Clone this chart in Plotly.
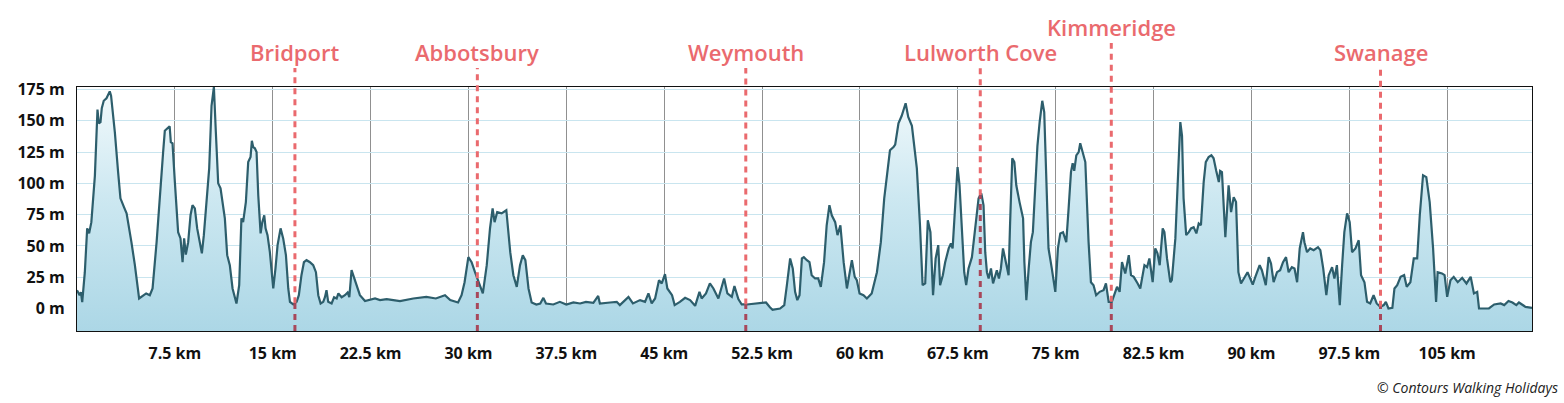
import numpy as np
import plotly.graph_objects as go

# ---------------- data ----------------
km = [0, 0.2, 0.3, 0.4, 0.6, 0.78, 0.93, 1.1, 1.37, 1.57, 1.67, 1.8, 1.9, 2.05, 2.26, 2.51, 2.61, 2.9, 3.15, 3.33,
      3.6, 3.8, 4.17, 4.43, 4.76, 5.07, 5.3, 5.58, 5.79, 6.1, 6.35, 6.6, 6.73, 6.99, 7.1, 7.19, 7.32, 7.5, 7.75, 7.93,
      8.09, 8.21, 8.34, 8.52, 8.7, 8.85, 9.03, 9.21, 9.42, 9.57, 9.72, 9.93, 10.13, 10.31, 10.49, 10.64, 10.82, 11.0,
      11.2, 11.33, 11.51, 11.71, 11.92, 12.22, 12.43, 12.6, 12.73, 12.94, 13.12, 13.3, 13.4, 13.5, 13.63, 13.76, 13.89,
      14.07, 14.2, 14.35, 14.45, 14.6, 14.78, 14.91, 15.04, 15.21, 15.37, 15.6, 15.8, 16.01, 16.19, 16.32, 16.57, 16.83,
      17.0, 17.2, 17.39, 17.59, 17.85, 18.1, 18.31, 18.49, 18.67, 18.87, 19.0, 19.12, 19.25, 19.51, 19.7, 19.9, 20.03,
      20.28, 20.53, 20.74, 20.87, 21.04, 21.22, 21.43, 21.68, 22.07, 22.45, 22.84, 23.22, 23.73, 24.24,
      24.75, 25.77, 26.77, 27.5, 28.2, 28.6, 29.2, 29.47, 29.7, 29.99, 30.24, 30.5, 30.8, 31.1, 31.4, 31.65, 31.85, 32.0,
      32.2, 32.54, 32.9, 33.2, 33.44, 33.7, 33.95, 34.16, 34.36, 34.6, 34.84, 35.2, 35.5, 35.74, 35.94, 36.5, 37.0, 37.5,
      38.04, 38.55, 39.0, 39.57, 39.94, 40.07, 40.85, 41.36, 41.6, 42.26, 42.6, 43.15, 43.53, 43.79, 44.04, 44.3, 44.6,
      44.81, 45.06, 45.24, 45.6, 45.8, 46.2, 46.6, 46.98, 47.37, 47.7, 47.87, 48.2, 48.5, 48.77, 49.15, 49.59, 49.84,
      50.18, 50.38, 50.68, 50.94, 51.33, 52.1, 52.8,
      53.1, 53.3, 53.88, 54.2, 54.4, 54.65, 54.85, 55.03, 55.2, 55.37, 55.55, 55.7, 55.93, 56.13, 56.3, 56.56, 56.8, 57.0,
      57.25, 57.45, 57.66, 57.84, 58.1, 58.28, 58.5, 58.75, 59.0, 59.2, 59.38, 59.6, 59.76, 59.97, 60.27, 60.53, 60.9,
      61.3, 61.6, 61.86, 62.06, 62.3, 62.57, 62.7, 62.95, 63.2, 63.5, 63.7, 63.98, 64.1, 64.36, 64.6, 64.8, 65.0, 65.2,
      65.4, 65.6, 65.8, 66.0, 66.14, 66.35, 66.53, 66.8, 66.97, 67.1, 67.3, 67.48, 67.63, 67.81, 67.99, 68.14, 68.32,
      68.58, 68.83, 69.09, 69.3, 69.47, 69.6, 69.73, 69.86, 70.04, 70.2, 70.49, 70.65, 70.8, 70.96, 71.13, 71.39, 71.5,
      71.67, 71.83, 71.98, 72.23, 72.5, 72.6, 72.75, 72.93, 73.1, 73.25, 73.43, 73.6, 73.77, 73.97, 74.12, 74.28, 74.45,
      74.7, 74.97, 75.17, 75.35, 75.56, 75.81, 75.99, 76.17, 76.3, 76.42, 76.58, 76.76, 76.88, 77.06, 77.27, 77.52,
      77.7, 77.9, 78.1, 78.37, 78.67, 78.85, 79.06, 79.3, 79.5, 79.7, 79.9, 80.08, 80.33, 80.6, 80.77, 80.98, 81.28,
      81.48, 81.8, 82.0, 82.18, 82.43, 82.63, 82.8, 82.97, 83.2, 83.33, 83.53, 83.78, 83.9, 84.17, 84.37, 84.55, 84.68,
      84.8, 85.0, 85.2, 85.37, 85.57, 85.78, 85.96, 86.13, 86.34, 86.5, 86.72, 86.93, 87.1, 87.3, 87.5, 87.6, 87.74,
      88.0, 88.25, 88.44, 88.64, 88.82, 89.0, 89.2, 89.53, 89.7, 89.9, 90.1, 90.3, 90.63, 90.8, 91.1, 91.32, 91.5, 91.7,
      91.96, 92.2, 92.42, 92.65, 92.85, 93.1, 93.3, 93.5, 93.7, 93.95, 94.06, 94.26, 94.5, 94.77, 95.1, 95.28, 95.5,
      95.74, 95.92, 96.18, 96.36, 96.55, 96.77, 96.95, 97.12, 97.33, 97.53, 97.71, 97.97, 98.22, 98.4, 98.66, 98.86,
      99.1, 99.36, 99.6, 99.88, 100.14, 100.3, 100.5, 100.8, 100.96, 101.17, 101.43, 101.7, 101.9, 102.18, 102.44,
      102.7, 102.9, 103.15, 103.4, 103.66, 103.92, 104.15, 104.27, 104.6, 104.8, 105.0, 105.25, 105.5, 105.81, 106.15,
      106.48, 106.8, 107.05, 107.3, 107.44, 108.2, 108.6, 109.1, 109.37, 109.7, 110.0, 110.3, 110.5, 110.7, 111.0, 111.5]

elevation = [14.6, 10.6, 13, 5, 29, 64, 60, 69, 106, 159, 148, 149, 160, 166, 168, 173.5, 170, 141, 109, 88,
             81, 76, 53, 35, 8, 10.6, 12, 10.6, 16, 53, 93, 125, 142, 145, 145.6, 133, 132, 101, 61, 56,
             37, 56, 43, 53, 74.5, 82.5, 80, 64, 51, 44, 58.6, 85, 112, 162, 177, 141, 100, 96,
             82.5, 72, 42.6, 34.6, 16, 4, 18.6, 72, 69, 85, 117, 121, 134, 129, 128, 125, 90.5,
             60, 69, 74.5, 64, 58.6, 45, 29, 16, 32, 50.6, 64, 56, 42.6, 16, 5.3, 3.2, 5.3,
             10.6, 26.6, 37, 38.6, 37, 34.6, 29, 10.6, 4, 5.3, 9, 14.6, 5.3, 4, 9, 8, 12,
             9, 10.6, 12.8, 9, 30.6, 25, 18.6, 10.6, 6, 6.7, 8, 6.7, 7.5, 6.7,
             5.9, 8, 9.3, 8, 10.6, 6.7, 4.8, 10.6, 21, 41, 37, 29, 21, 12, 34.6, 64, 80, 69,
             77, 76, 78.5, 45, 26.6, 17.3, 34.6, 42.6, 38.6, 16, 4.8, 3.2, 4, 8.5, 4, 3.2, 5.3, 3.2,
             4.8, 4, 5.3, 4.5, 10, 4, 4.8, 5.3, 2.7, 9.3, 4, 6.7, 5.3, 12, 4, 8, 22.6,
             20, 27.4, 16, 10.6, 2.7, 5.3, 8.5, 6.7, 2.1, 13.3, 8, 12, 20, 16, 8, 24, 12,
             9.3, 18, 7.5, 3.2, 3.2, 4, 4.8,
             1, -1, 0, 2.7, 18.6, 40, 32, 13.3, 6.7, 10.6, 40, 41, 38.6, 37, 26.6, 24, 24, 17.3,
             37, 66.5, 82.5, 74.5, 69, 58.6, 66.5, 37, 16, 29, 38.6, 25.3, 22.6, 12, 10.6, 8, 12,
             29, 53, 88, 106.5, 126.4, 129, 131, 148, 154, 164, 153, 146, 134, 112, 66.5, 18.6, 20, 70.5,
             61, 10.6, 40, 50.6, 18.6, 26.6, 37, 48, 52, 48, 82.5, 113, 98.5, 61, 29, 18.6, 32,
             41, 66.5, 88, 92, 82.5, 45, 29, 24, 32, 20, 30.6, 24, 32, 48, 40, 26.6, 66.5,
             120, 117, 98.5, 85, 72, 37, 6.7, 32, 53, 61, 93, 130, 149, 166, 157, 106.5, 48,
             32, 13.3, 48, 60, 61, 53, 80, 109, 116, 110, 122.4, 125, 132, 125, 117, 53,
             21, 18.6, 10.6, 13.3, 14.6, 20, 5.3, 5.3, 10.6, 17.3, 13.3, 37, 28, 42.6, 26.6, 25.3, 20,
             16, 34.6, 33, 40, 21, 48, 44, 34.6, 64, 61, 40, 21, 22.6, 56, 106.5, 149, 138,
             88, 58.6, 61, 64, 65, 60, 68, 66.5, 101, 117, 121, 122.4, 120, 110, 101, 110, 109,
             57, 98.5, 77, 89, 85, 29, 20, 26.6, 29, 24, 19, 25.3, 34.6, 30.6, 18.6, 41, 36, 21,
             29, 30.6, 37, 41, 29, 33, 32, 21, 48, 61, 53, 45, 48, 46.6, 49, 46.6, 32,
             10.6, 26.6, 33, 24, 34.6, 2.7, 34.6, 61, 76, 69, 45, 48, 54.5, 26.6, 21, 5.3,
             4, 10.6, 4, 1.3, 2.7, 5.3, 0, 0.5, 16, 18.6, 25.3, 26.6, 17.3, 21, 40,
             40, 74.5, 106.5, 105, 85, 48, 5.3, 29, 28, 26.6, 9.3, 22.6, 25.3, 21, 24.5,
             20, 25.3, 12, 13.3, 0, 0, 3.2, 4, 2.7, 6, 4.8, 2.7, 4.8, 3.2, 1.3, 0.5]

towns = ["Bridport", "Abbotsbury", "Weymouth", "Lulworth Cove", "Kimmeridge", "Swanage"]
town_km = [16.7, 30.68, 51.25, 69.22, 79.26, 99.89]
town_raised = [False, False, False, False, True, False]

x_ticks = [7.5, 15, 22.5, 30, 37.5, 45, 52.5, 60, 67.5, 75, 82.5, 90, 97.5, 105]
x_tick_text = ["7.5 km", "15 km", "22.5 km", "30 km", "37.5 km", "45 km", "52.5 km", "60 km",
               "67.5 km", "75 km", "82.5 km", "90 km", "97.5 km", "105 km"]
y_ticks = [0, 25, 50, 75, 100, 125, 150, 175]
y_tick_text = ["0 m", "25 m", "50 m", "75 m", "100 m", "125 m", "150 m", "175 m"]

X_RANGE = [0, 111.5]
Y_RANGE = [-18, 177]

# ---------------- figure ----------------
W, H = 1564, 403
ML, MR, MT, MB = 77, 32, 87, 72
plot_h = H - MT - MB

fig = go.Figure()
fig.add_trace(go.Scatter(x=km, y=[Y_RANGE[0]] * len(km), mode="lines",
                         line=dict(width=0, color="rgba(0,0,0,0)"), hoverinfo="skip", showlegend=False))
fig.add_trace(go.Scatter(
    x=km, y=elevation, mode="lines", fill="tonexty",
    line=dict(color="#2d5e6c", width=2.2),
    fillgradient=dict(type="vertical", start=Y_RANGE[0], stop=Y_RANGE[1],
                      colorscale=[[0, "#acd7e6"], [0.55, "#cde8f1"], [1, "#f3fafc"]]),
    showlegend=False))

RED = "#ea6a6e"
DARK_RED = "#a8475a"
def to_paper(v):
    return (v - Y_RANGE[0]) / (Y_RANGE[1] - Y_RANGE[0])

shapes = []
annotations = []
for name, tk, raised in zip(towns, town_km, town_raised):
    e = float(np.interp(tk, km, elevation))
    top_px = 43 if raised else 68
    top_paper = (H - MB - top_px) / plot_h
    shapes.append(dict(type="line", xref="x", yref="paper", x0=tk, x1=tk, y0=to_paper(e), y1=top_paper,
                       line=dict(color=RED, width=3, dash="6px,5px"), layer="above"))
    shapes.append(dict(type="line", xref="x", yref="paper", x0=tk, x1=tk, y0=0, y1=to_paper(e),
                       line=dict(color=DARK_RED, width=3, dash="6px,5px"), layer="above"))
    label_px = 27 if raised else 52
    annotations.append(dict(x=tk, xref="x", y=(H - MB - label_px) / plot_h, yref="paper",
                            text=name, showarrow=False, xanchor="center", yanchor="middle",
                            font=dict(family="Open Sans", size=22, color=RED, weight=600)))

annotations.append(dict(x=(1560 - ML) / (W - ML - MR), xref="paper", y=(H - MB - 387) / plot_h, yref="paper",
                        text="© Contours Walking Holidays", showarrow=False, xanchor="right", yanchor="middle",
                        font=dict(family="Open Sans", size=14, color="#222222", style="italic")))

fig.update_layout(
    width=W, height=H, margin=dict(l=ML, r=MR, t=MT, b=MB, pad=0),
    paper_bgcolor="white", plot_bgcolor="white",
    shapes=shapes, annotations=annotations, showlegend=False,
    xaxis=dict(range=X_RANGE, tickvals=x_ticks, ticktext=x_tick_text, showgrid=True,
               gridcolor="rgba(70,70,70,0.6)", gridwidth=1.3, zeroline=False,
               showline=True, linecolor="#111", linewidth=1.2, mirror=True, ticks="",
               layer="above traces", ticklabelstandoff=8,
               tickfont=dict(family="Open Sans", size=16, color="#111", weight="bold")),
    yaxis=dict(range=Y_RANGE, tickvals=y_ticks, ticktext=y_tick_text, showgrid=True,
               gridcolor="#c9e5ef", gridwidth=1.3, zeroline=False,
               showline=True, linecolor="#111", linewidth=1.2, mirror=True, ticks="",
               layer="above traces", ticklabelstandoff=8,
               tickfont=dict(family="Open Sans", size=16, color="#111", weight="bold")),
)

fig.write_html("out.html", config={"displayModeBar": False},
               post_script="document.body.style.margin='0';")
